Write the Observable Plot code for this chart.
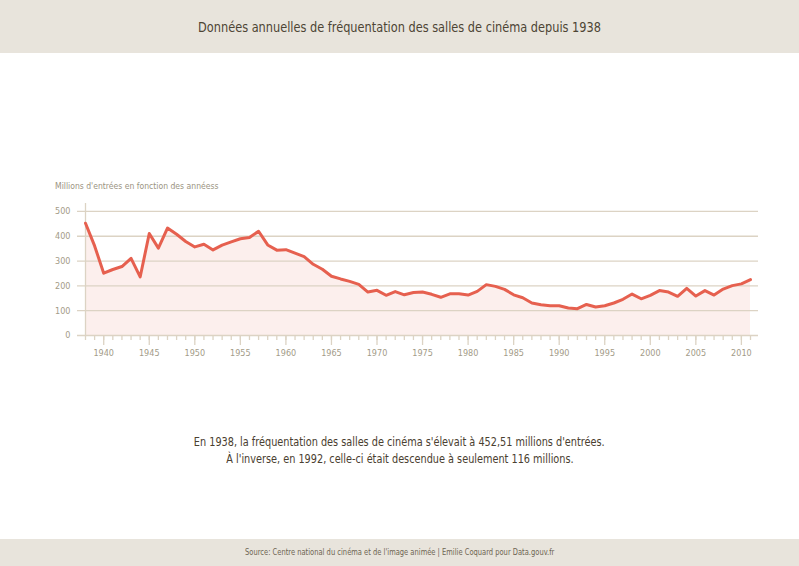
<!DOCTYPE html>
<html><head><meta charset="utf-8">
<script src="https://cdn.jsdelivr.net/npm/d3@7"></script>
<script src="https://cdn.jsdelivr.net/npm/@observablehq/plot@0.6"></script>
<style>
body{margin:0;width:799px;height:566px;position:relative;background:#fff;overflow:hidden;font-family:"Liberation Sans Narrow","DejaVu Sans Condensed","Roboto Condensed",sans-serif;}
.sq{display:inline-block;white-space:nowrap;}
#header{position:absolute;left:0;top:0;width:799px;height:53px;background:#e8e4dc;color:#4d4434;font-size:14.5px;text-align:center;line-height:54px;}
#header .sq{transform:scaleX(0.87);transform-origin:center;}
#chart{position:absolute;left:0;top:53px;}
#ylabel{position:absolute;left:55px;top:180px;font-size:9.5px;color:#9b937f;}
#ylabel .sq{transform:scaleX(0.9);transform-origin:left center;}
#note{position:absolute;left:0;top:434px;width:799px;text-align:center;font-size:12px;line-height:16.5px;color:#4a4030;}
#note .sq{transform:scaleX(0.9);transform-origin:center;}
#footer{position:absolute;left:0;top:539px;width:799px;height:27px;background:#e8e4dc;color:#6e6452;font-size:8.5px;text-align:center;line-height:27px;}
#footer .sq{transform:scaleX(0.88);transform-origin:center;}
</style></head>
<body>
<div id="header"><span class="sq">Données annuelles de fréquentation des salles de cinéma depuis 1938</span></div>
<div id="chart"></div>
<div id="ylabel"><span class="sq">Millions d'entrées en fonction des annéess</span></div>
<div id="note"><span class="sq">En 1938, la fréquentation des salles de cinéma s'élevait à 452,51 millions d'entrées.</span><br><span class="sq">À l'inverse, en 1992, celle-ci était descendue à seulement 116 millions.</span></div>
<div id="footer"><span class="sq">Source: Centre national du cinéma et de l'image animée | Emilie Coquard pour Data.gouv.fr</span></div>
<script>
const years = [1938,1939,1940,1941,1942,1943,1944,1945,1946,1947,1948,1949,
  1950,1951,1952,1953,1954,1955,1956,1957,1958,1959,
  1960,1961,1962,1963,1964,1965,1966,1967,1968,1969,
  1970,1971,1972,1973,1974,1975,1976,1977,1978,1979,
  1980,1981,1982,1983,1984,1985,1986,1987,1988,1989,
  1990,1991,1992,1993,1994,1995,1996,1997,1998,1999,
  2000,2001,2002,2003,2004,2005,2006,2007,2008,2009,
  2010,2011];
const entries = [452.5,361,251,266,278,311,236,411,352,433,408,379,
  357,368,345,364,377,390,395,420,365,344,
  346,332,318,287,267,239,228,218,206,175,
  182,162,177,164,173,175,166,154,168,168,
  163,178,205,198,186,164,152,131,124,120,
  120,111,108,125,115,120,131,146,167,148,
  162,181,175,158,190,159,181,163,187,201,
  208,225];
const yTicks = [0,100,200,300,400,500];
const labelYears = [1940,1945,1950,1955,1960,1965,1970,1975,1980,1985,1990,1995,2000,2005,2010];

const data = years.map((year, i) => ({year, value: entries[i]}));
const gridColor = "#dcd3c4";
const tickText = "#a39b88";

const chart = Plot.plot({
  width: 799,
  height: 330,
  marginLeft: 85,
  marginRight: 49,
  marginTop: 150,
  marginBottom: 48,
  x: {domain: [1938, 2011], label: null},
  y: {domain: [0, 532], label: null},
  style: {fontFamily: '"Liberation Sans Narrow","DejaVu Sans Condensed","Roboto Condensed",sans-serif', fontSize: "9px", background: "transparent", color: tickText},
  marks: [
    Plot.areaY(data, {x: "year", y: "value", fill: "#fcefed"}),
    Plot.gridY(yTicks, {stroke: gridColor, strokeOpacity: 1, strokeWidth: 1.3, insetLeft: -8, insetRight: -8}),
    Plot.ruleX([years[0]], {stroke: gridColor, strokeWidth: 1.3}),
    Plot.axisX(years, {tickSize: 5, tickFormat: () => "", stroke: gridColor, strokeWidth: 1.3}),
    Plot.axisX(labelYears, {tickSize: 10, tickPadding: 4, tickFormat: "d", stroke: gridColor, strokeWidth: 1.3, fill: tickText}),
    Plot.axisY(yTicks, {tickSize: 0, tickPadding: 15, fill: tickText}),
    Plot.lineY(data, {x: "year", y: "value", stroke: "#e6604f", strokeWidth: 3, strokeLinejoin: "round"})
  ]
});
document.getElementById("chart").appendChild(chart);
</script>
</body></html>
